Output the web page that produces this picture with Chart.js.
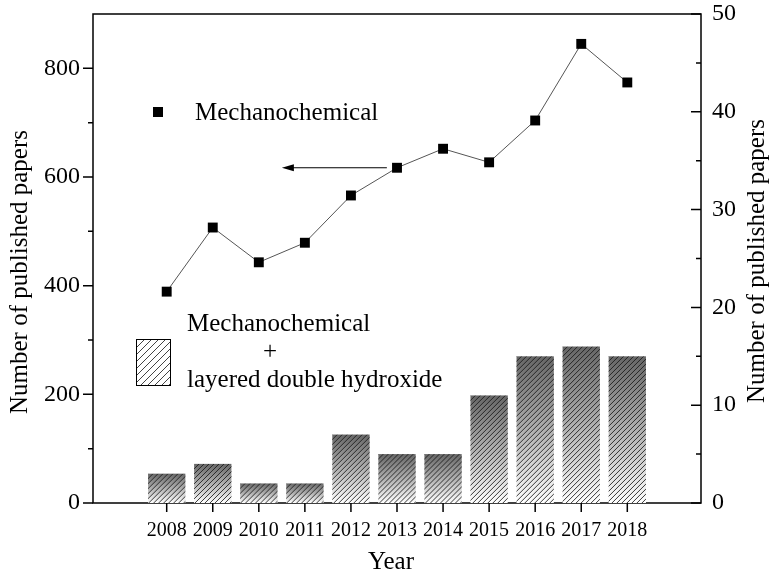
<!DOCTYPE html>
<html>
<head>
<meta charset="utf-8">
<script src="https://cdn.jsdelivr.net/npm/chart.js@4.4.1/dist/chart.umd.min.js"></script>
<style>
  html, body { margin: 0; padding: 0; background: #fff; }
  #wrap { width: 776px; height: 577px; }
</style>
</head>
<body>
<div id="wrap"><canvas id="paperChart" width="776" height="577"></canvas></div>
<script>
const years = [2008, 2009, 2010, 2011, 2012, 2013, 2014, 2015, 2016, 2017, 2018];
const mechPapers = [389, 507, 443, 479, 566, 617, 652, 627, 704, 845, 774];
const ldhPapers = [3, 4, 2, 2, 7, 5, 5, 11, 15, 16, 15];
const leftTicks = [0, 200, 400, 600, 800];
const leftMinor = [100, 300, 500, 700];
const rightTicks = [0, 10, 20, 30, 40, 50];
const rightMinor = [5, 15, 25, 35, 45];
const arrowFrom = [2012.78, 617];
const arrowTo = [2010.5, 617];

const serif = '"Liberation Serif", "Times New Roman", serif';

function hatch(ctx, left, top, right, bottom, gap) {
    ctx.save();
    ctx.beginPath();
    ctx.rect(left, top, right - left, bottom - top);
    ctx.clip();
    const h = bottom - top;
    ctx.beginPath();
    for (let k = -h; k < right - left + h; k += gap) {
        ctx.moveTo(left + k, bottom);
        ctx.lineTo(left + k + h, top);
    }
    ctx.stroke();
    ctx.restore();
}

// fixed axis boxes, no extra label padding
function fixBox(size, prop) {
    return s => {
        s[prop] = size;
        s.paddingTop = 0; s.paddingBottom = 0;
        s.paddingLeft = 0; s.paddingRight = 0;
    };
}

// frame + ticks, under the bars
const axesPlugin = {
    id: 'axesPlugin',
    beforeDatasetsDraw(chart) {
        const ctx = chart.ctx;
        const a = chart.chartArea;
        const x = chart.scales.x, yl = chart.scales.y, yr = chart.scales.y1;
        ctx.save();
        ctx.strokeStyle = '#000';
        ctx.lineWidth = 1.5;
        ctx.strokeRect(a.left, a.top, a.right - a.left, a.bottom - a.top);
        ctx.beginPath();
        leftTicks.forEach(v => { const p = yl.getPixelForValue(v); ctx.moveTo(a.left - 10, p); ctx.lineTo(a.left, p); });
        leftMinor.forEach(v => { const p = yl.getPixelForValue(v); ctx.moveTo(a.left - 5, p); ctx.lineTo(a.left, p); });
        rightTicks.forEach(v => { const p = yr.getPixelForValue(v); ctx.moveTo(a.right - 10, p); ctx.lineTo(a.right, p); });
        rightMinor.forEach(v => { const p = yr.getPixelForValue(v); ctx.moveTo(a.right - 5, p); ctx.lineTo(a.right, p); });
        years.forEach(v => { const p = x.getPixelForValue(v); ctx.moveTo(p, a.bottom); ctx.lineTo(p, a.bottom + 9); });
        ctx.stroke();
        ctx.restore();
    },
    afterDatasetDraw(chart, args) {
        if (args.index !== 1) return;
        const ctx = chart.ctx;
        ctx.save();
        args.meta.data.forEach(bar => {
            const p = bar.getProps(['x', 'y', 'base', 'width'], true);
            const l = p.x - p.width / 2, r = p.x + p.width / 2;
            const g = ctx.createLinearGradient(0, p.y, 0, p.base);
            g.addColorStop(0, '#666666');
            g.addColorStop(0.5, '#b0b0b0');
            g.addColorStop(1, '#ffffff');
            ctx.fillStyle = g;
            ctx.fillRect(l, p.y, r - l, p.base - p.y);
            ctx.strokeStyle = 'rgba(25,25,25,0.85)';
            ctx.lineWidth = 1;
            hatch(ctx, l, p.y, r, p.base, 5);
        });
        ctx.restore();
    },
    afterDraw(chart) {
        const ctx = chart.ctx;
        const x = chart.scales.x, yl = chart.scales.y;
        ctx.save();

        // arrow pointing to the left axis
        const x0 = x.getPixelForValue(arrowFrom[0]), y0 = yl.getPixelForValue(arrowFrom[1]);
        const x1 = x.getPixelForValue(arrowTo[0]), y1 = yl.getPixelForValue(arrowTo[1]);
        ctx.strokeStyle = '#000';
        ctx.fillStyle = '#000';
        ctx.lineWidth = 1;
        ctx.beginPath();
        ctx.moveTo(x0, y0);
        ctx.lineTo(x1 + 6, y1);
        ctx.stroke();
        ctx.beginPath();
        ctx.moveTo(x1, y1);
        ctx.lineTo(x1 + 12, y1 - 3.5);
        ctx.lineTo(x1 + 12, y1 + 3.5);
        ctx.closePath();
        ctx.fill();

        // axis titles
        ctx.font = '25px ' + serif;
        ctx.textAlign = 'center';
        ctx.textBaseline = 'middle';
        ctx.save();
        ctx.translate(20, 272);
        ctx.rotate(-Math.PI / 2);
        ctx.fillText('Number of published papers', 0, 0);
        ctx.restore();
        ctx.save();
        ctx.translate(757, 261);
        ctx.rotate(-Math.PI / 2);
        ctx.fillText('Number of published papers', 0, 0);
        ctx.restore();
        ctx.fillText('Year', 391, 562);

        // legend
        ctx.fillRect(153, 107, 10, 10);
        ctx.textAlign = 'left';
        ctx.textBaseline = 'alphabetic';
        ctx.fillText('Mechanochemical', 195, 120);
        ctx.fillText('Mechanochemical', 187, 331);
        ctx.fillText('layered double hydroxide', 187, 387);
        ctx.textAlign = 'center';
        ctx.fillText('+', 270, 359);

        ctx.lineWidth = 1;
        ctx.strokeStyle = '#000';
        ctx.strokeRect(136.5, 339.5, 34, 46);
        ctx.strokeStyle = '#444';
        hatch(ctx, 137, 340, 170, 385, 7);
        ctx.restore();
    }
};

const ctx = document.getElementById('paperChart');
new Chart(ctx.getContext('2d'), {
    data: {
        datasets: [{
            type: 'line',
            label: 'Mechanochemical',
            data: years.map((yr, i) => ({ x: yr, y: mechPapers[i] })),
            xAxisID: 'x',
            yAxisID: 'y',
            borderColor: '#555',
            borderWidth: 1,
            pointStyle: 'rect',
            pointRadius: 7,
            pointBackgroundColor: '#000',
            pointBorderWidth: 0,
            order: 0
        }, {
            type: 'bar',
            label: 'Mechanochemical + layered double hydroxide',
            data: years.map((yr, i) => ({ x: yr, y: ldhPapers[i] })),
            xAxisID: 'x',
            yAxisID: 'y1',
            barPercentage: 0.81,
            categoryPercentage: 1,
            borderWidth: 0,
            backgroundColor: 'rgba(0,0,0,0)',
            order: 1
        }]
    },
    options: {
        responsive: false,
        animation: false,
        devicePixelRatio: 1,
        layout: { padding: { top: 14, left: 0, right: 0, bottom: 0 } },
        plugins: {
            legend: { display: false },
            tooltip: { enabled: false }
        },
        scales: {
            x: {
                type: 'linear',
                position: 'bottom',
                min: 2007,
                max: 2019,
                afterBuildTicks: s => { s.ticks = years.map(v => ({ value: v })); },
                afterFit: fixBox(74, 'height'),
                grid: { display: false, drawTicks: false },
                border: { display: false },
                ticks: {
                    autoSkip: false,
                    maxRotation: 0,
                    padding: 16,
                    color: '#000',
                    font: { family: serif, size: 20 },
                    callback: v => String(v)
                }
            },
            y: {
                type: 'linear',
                position: 'left',
                min: 0,
                max: 900,
                afterBuildTicks: s => { s.ticks = leftTicks.map(v => ({ value: v })); },
                afterFit: fixBox(93, 'width'),
                grid: { display: false, drawTicks: false },
                border: { display: false },
                ticks: { padding: 13, color: '#000', font: { family: serif, size: 24 } }
            },
            y1: {
                type: 'linear',
                position: 'right',
                min: 0,
                max: 50,
                afterBuildTicks: s => { s.ticks = rightTicks.map(v => ({ value: v })); },
                afterFit: fixBox(75, 'width'),
                grid: { display: false, drawTicks: false },
                border: { display: false },
                ticks: { padding: 11, color: '#000', font: { family: serif, size: 24 } }
            }
        }
    },
    plugins: [axesPlugin]
});
</script>
</body>
</html>
